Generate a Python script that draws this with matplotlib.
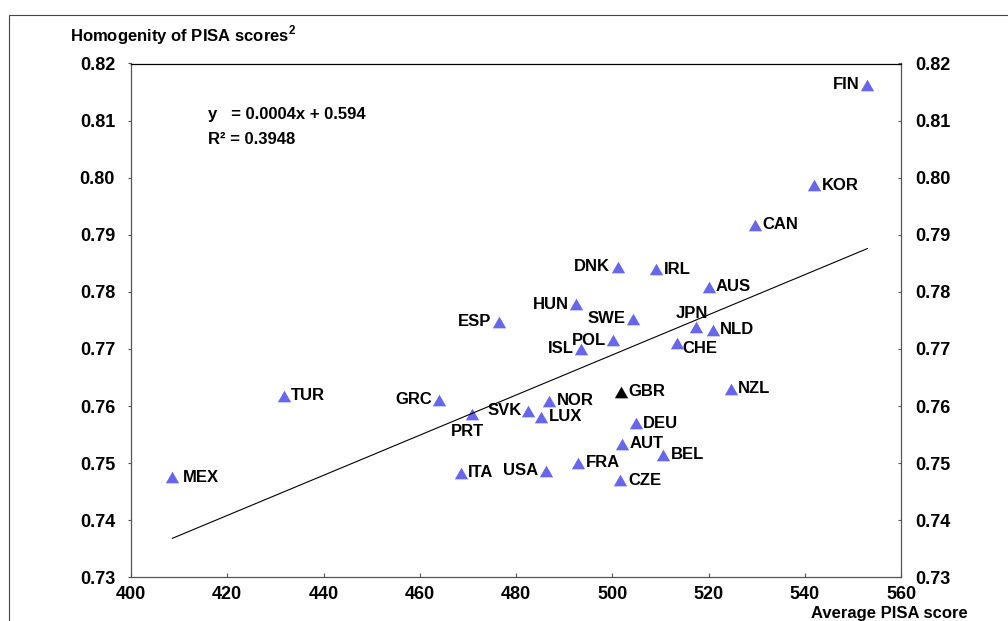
import numpy as np
import matplotlib
matplotlib.use("Agg")
import matplotlib.pyplot as plt
from matplotlib.patches import Rectangle

plt.rcParams['font.family'] = ['Liberation Sans', 'DejaVu Sans']
plt.rcParams['mathtext.fontset'] = 'custom'
plt.rcParams['mathtext.rm'] = 'Liberation Sans'
plt.rcParams['mathtext.bf'] = 'Liberation Sans:bold'

#--------------------------------------
countries = ['MEX', 'TUR', 'FIN', 'KOR', 'CAN', 'DNK', 'IRL', 'AUS', 'HUN', 'SWE',
             'ESP', 'JPN', 'NLD', 'POL', 'ISL', 'CHE', 'GRC', 'PRT', 'SVK', 'LUX',
             'NOR', 'GBR', 'NZL', 'DEU', 'AUT', 'BEL', 'FRA', 'ITA', 'USA', 'CZE']
pisa_avg  = [408.6, 431.7, 553.0, 541.9, 529.6, 501.1, 509.1, 520.0, 492.5, 504.4,
             476.4, 517.5, 520.9, 500.2, 493.5, 513.5, 464.1, 470.9, 482.4, 485.2,
             486.9, 501.8, 524.6, 504.9, 502.1, 510.6, 492.9, 468.5, 486.2, 501.7]
homogen   = [0.7475, 0.7618, 0.8163, 0.7987, 0.7918, 0.7844, 0.7840, 0.7809, 0.7778, 0.7753,
             0.7748, 0.7738, 0.7734, 0.7715, 0.7700, 0.7711, 0.7611, 0.7586, 0.7592, 0.7581,
             0.7609, 0.7625, 0.7630, 0.7570, 0.7534, 0.7515, 0.7501, 0.7483, 0.7487, 0.7470]
highlight = 'GBR'
xticks    = [400, 420, 440, 460, 480, 500, 520, 540, 560]
yticks    = [0.73, 0.74, 0.75, 0.76, 0.77, 0.78, 0.79, 0.80, 0.81, 0.82]

# label placement (pixels): dx, dy, ha
lab_default = (7.5, -4.5, 'left')
lab_left    = (-7.5, -4.5, 'right')
lab_pos = {'FIN': lab_left, 'DNK': lab_left, 'HUN': lab_left, 'SWE': lab_left,
           'ESP': lab_left, 'ISL': lab_left, 'GRC': lab_left, 'USA': lab_left,
           'POL': (-6.6, -4.1, 'right'), 'SVK': (-6.0, -4.3, 'right'),
           'JPN': (-4.5, 9.8, 'center'), 'CHE': (5.4, -10.0, 'left'),
           'PRT': (-4.6, -21.8, 'center'), 'MEX': (10.5, -5.0, 'left')}

#--------------------------------------
fig = plt.figure(figsize=(10.08, 6.21), dpi=100)
fig.patches.append(Rectangle((9/1008, -0.1), 1.2, 1.1 - 15/621, transform=fig.transFigure,
                             fill=False, edgecolor='#444444', linewidth=0.8, clip_on=False))

ax = fig.add_axes([131/1008, 1-577.4/621, 770/1008, 513.9/621])
tri = [(0, 0.875), (-1, -0.875), (1, -0.875)]
for c, x, y in zip(countries, pisa_avg, homogen):
    col = 'black' if c == highlight else '#6767EE'
    ax.plot(x, y, linestyle='none', marker=tri, markersize=9.6, color=col, markeredgewidth=0)
    dx, dy, ha = lab_pos.get(c, lab_default)
    ax.annotate(c, (x, y), xytext=(dx, dy), textcoords='offset pixels', ha=ha, va='baseline',
                fontsize=12, fontweight='bold', color='black')

# linear trend
k, b = np.polyfit(pisa_avg, homogen, 1)
xl = np.array([min(pisa_avg), max(pisa_avg)])
ax.plot(xl, k*xl + b, color='black', linewidth=0.8)

ax.set_xlim(400, 560)
ax.set_ylim(0.73, 0.82)
ax.set_xticks(xticks)
ax.set_xticklabels([str(v) for v in xticks])
ax.set_yticks(yticks)
ax.set_yticklabels(['%.2f' % v for v in yticks])
ax.tick_params(axis='x', direction='in', length=3, pad=6, labelsize=13, color='#555555')
ax.tick_params(axis='y', direction='out', length=2.5, pad=9, labelsize=13, color='#555555')
for t in ax.get_xticklabels() + ax.get_yticklabels():
    t.set_fontweight('bold')
for s in ['left', 'bottom', 'right']:
    ax.spines[s].set_color('#555555')
ax.spines['top'].set_color('black')
for s in ax.spines.values():
    s.set_linewidth(0.9)

ax2 = ax.twinx()
ax2.set_ylim(0.73, 0.82)
ax2.set_yticks(yticks)
ax2.set_yticklabels(['%.2f' % v for v in yticks])
ax2.tick_params(axis='y', direction='in', length=2.5, pad=10, labelsize=13, color='#555555')
for t in ax2.get_yticklabels():
    t.set_fontweight('bold')
for s in ax2.spines.values():
    s.set_visible(False)

# texts
fig.text(69.7/1008, 1-41/621, r'Homogenity of PISA scores$^{\mathbf{2}}$', fontsize=12,
         fontweight='bold', ha='left', va='baseline')
fig.text(207.7/1008, 1-119.3/621, 'y   = 0.0004x + 0.594', fontsize=12, fontweight='bold',
         ha='left', va='baseline')
fig.text(207.7/1008, 1-144/621, 'R² = 0.3948', fontsize=12, fontweight='bold',
         ha='left', va='baseline')
fig.text(968/1008, 1-618/621, 'Average PISA score', fontsize=12, fontweight='bold',
         ha='right', va='baseline')

fig.savefig('out.png', dpi=100)
